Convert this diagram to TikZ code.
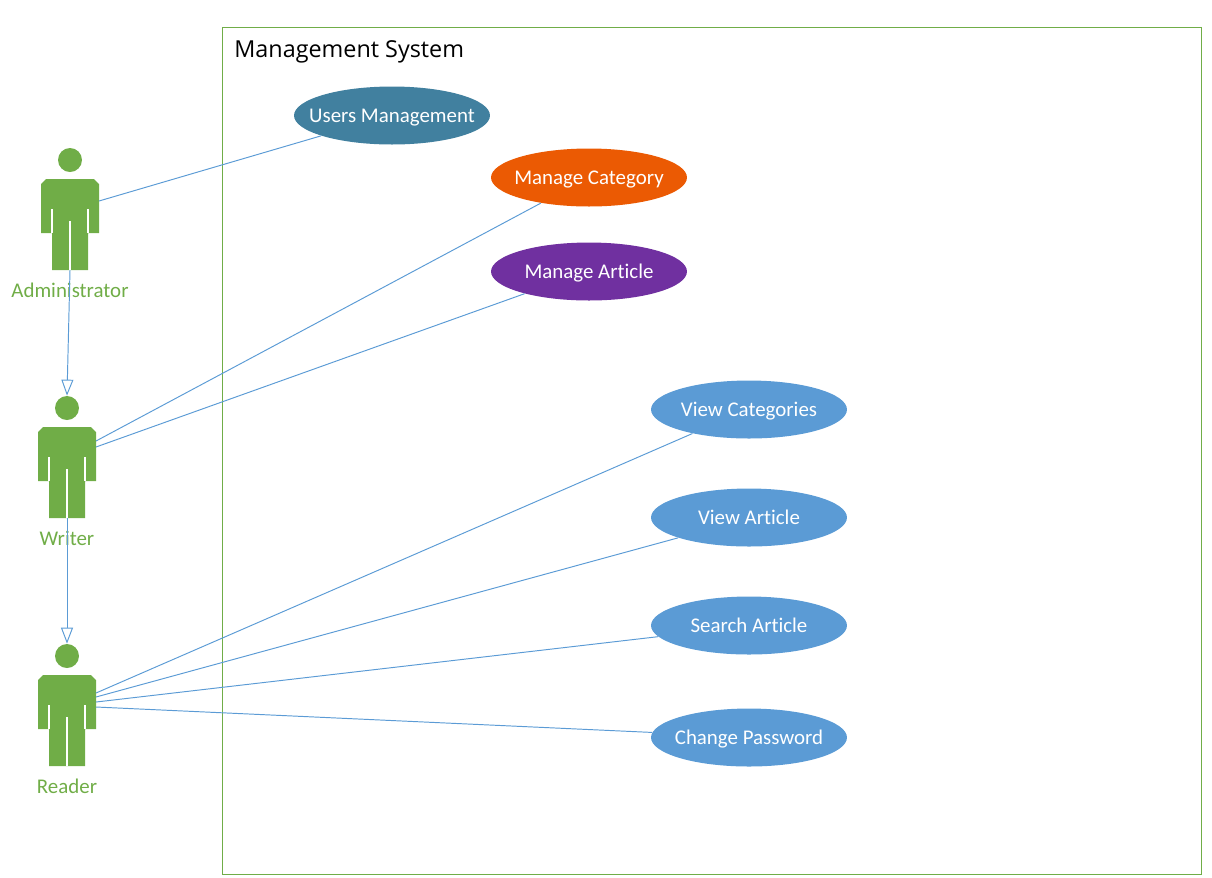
\documentclass[tikz,border=0pt]{standalone}
\usepackage{fontspec}
\setmainfont[Ligatures=NoCommon]{Carlito}
\newfontfamily\titlefont{Open Sans}
\usepackage{tikz}
\usetikzlibrary{arrows.meta}
\usetikzlibrary{shapes.geometric}

\definecolor{actorgreen}{HTML}{70AD47}
\definecolor{linkblue}{HTML}{5B9BD5}
\definecolor{usecaseblue}{HTML}{5B9BD5}
\definecolor{usersteal}{HTML}{41809F}
\definecolor{catorange}{HTML}{EB5A03}
\definecolor{artpurple}{HTML}{7030A0}

\newcommand{\ucname}[1]{\makebox[0pt]{\raisebox{-3.7pt}[0pt][0pt]{#1}}}

\tikzset{
  usecase/.style={ellipse,minimum width=3.92cm,minimum height=1.16cm,inner sep=0pt,text=white,font=\fontsize{11.9}{14}\selectfont},
  actorname/.style={text=actorgreen,font=\fontsize{11.9}{14}\selectfont,inner sep=0pt},
  link/.style={linkblue,line width=0.55pt},
  extends/.style={link,-{Triangle[open,length=0.32cm,width=0.24cm]}},
  pics/actor/.style={code={
    \node[circle,fill=actorgreen,minimum size=0.48cm,inner sep=0pt] (-head) at (0,0) {};
    \fill[actorgreen] (-24,19)--(24,19)--(29,24)--(29,73)--(18,73)--(18,110)--(-18,110)--(-18,73)--(-29,73)--(-29,24)--cycle;
    % slits between arms and legs
    \draw[white,line width=0.6pt] (-18,49)--(-18,73);
    \draw[white,line width=0.6pt] (18,49)--(18,73);
    \draw[white,line width=0.6pt] (0,61)--(0,110);
    \coordinate (-foot) at (0,110);
  }}
}

\begin{document}
\begin{tikzpicture}[x=0.02cm,y=-0.02cm]
\useasboundingbox (0,0) rectangle (1212,877);

\draw[actorgreen,line width=0.5pt] (222,27) rectangle (1201,874);
\node[anchor=west,inner sep=0pt,font=\titlefont\fontsize{13.3}{16}\selectfont] (title) at (234,51.5) {Management System};

% actors
\pic (admin) at (70,160) {actor};
\pic (writer) at (67,408) {actor};
\pic (reader) at (67,656) {actor};

% use cases
\node[usecase,fill=usersteal] (users) at (392,115.5) {\ucname{Users Management}};
\node[usecase,fill=catorange] (category) at (589,177.5) {\ucname{Manage Category}};
\node[usecase,fill=artpurple] (article) at (589,271.5) {\ucname{Manage Article}};
\node[usecase,fill=usecaseblue] (viewcat) at (749,409.5) {\ucname{View Categories}};
\node[usecase,fill=usecaseblue] (viewart) at (749,517.5) {\ucname{View Article}};
\node[usecase,fill=usecaseblue] (search) at (749,625.5) {\ucname{Search Article}};
\node[usecase,fill=usecaseblue] (password) at (749,737.5) {\ucname{Change Password}};

\node[actorname] (adminname) at (70,290) {Administrator};
\node[actorname] (writername) at (67,538) {Writer};
\node[actorname] (readername) at (67,786) {Reader};

\coordinate (adminside) at (99,201);
\draw[link] (adminside)--(users.196);

\coordinate (writerside) at (96,441);
\coordinate (writerhip) at (96,447);
\draw[link] (writerside)--(category.208.4);
\draw[link] (writerhip)--(article.199.5);

\foreach \name/\ypos/\ang in {viewcat/693/203.6,viewart/697/196.5,search/702/187.7,password/707/177.6}{
  \coordinate (reader\name) at (96,\ypos);
  \draw[link] (reader\name)--(\name.\ang);
}

\draw[extends] (admin-foot)--(writer-head.north);
\draw[extends] (writer-foot)--(reader-head.north);

\end{tikzpicture}
\end{document}
